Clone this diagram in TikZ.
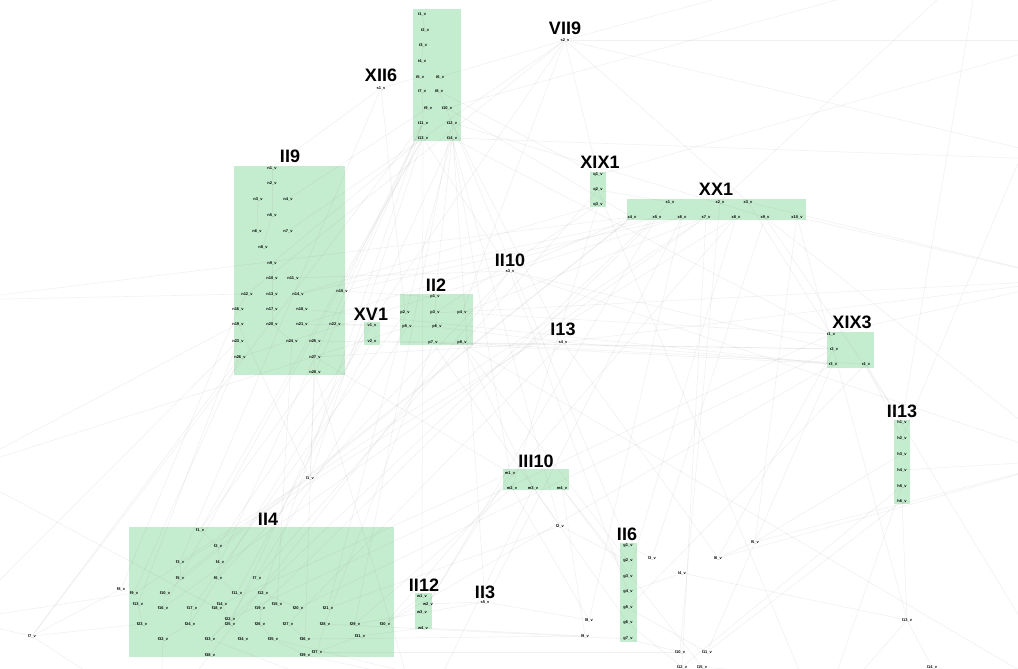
\documentclass[tikz,border=0pt]{standalone}
\usepackage{fontspec}
\setmainfont{Liberation Sans}
\setsansfont{Liberation Sans}
\definecolor{clusterfill}{RGB}{196,236,206}
\definecolor{edgegray}{RGB}{150,150,150}
\tikzset{
  clus/.style={fill=clusterfill, draw=none},
  ctitle/.style={font=\fontsize{18}{18}\selectfont\bfseries, inner sep=0pt, text=black},
  tn/.style={font=\fontsize{4}{4}\selectfont\bfseries, inner sep=0.3pt, text=black},
  edge/.style={draw=edgegray, line width=0.6pt, opacity=0.13}
}
\begin{document}
\begin{tikzpicture}[x=1pt,y=-1pt]
\useasboundingbox (0,0) rectangle (1018,669);
\fill[white] (0,0) rectangle (1018,669);

% cluster backgrounds
\fill[clus] (413,9) rectangle (461,141);   % XII6
\fill[clus] (234,166) rectangle (345,375); % II9
\fill[clus] (590,172) rectangle (606,207); % XIX1
\fill[clus] (627,199) rectangle (806,220); % XX1
\fill[clus] (400,294) rectangle (473,345); % II2
\fill[clus] (364,322) rectangle (380,345); % XV1
\fill[clus] (827,332) rectangle (874,368); % XIX3
\fill[clus] (894,420) rectangle (910,504); % II13
\fill[clus] (503,469) rectangle (569,490); % III10
\fill[clus] (129,527) rectangle (394,657); % II4
\fill[clus] (415,593) rectangle (432,629); % II12
\fill[clus] (620,543) rectangle (637,642); % II6

% cluster titles
\node[ctitle] (tXII6)  at (381,75)  {XII6};
\node[ctitle] (tVII9)  at (565,28)  {VII9};
\node[ctitle] (tII9)   at (290,156) {II9};
\node[ctitle] (tXIX1)  at (600,162) {XIX1};
\node[ctitle] (tXX1)   at (716,189) {XX1};
\node[ctitle] (tII10)  at (510,260) {II10};
\node[ctitle] (tII2)   at (436,285) {II2};
\node[ctitle] (tXV1)   at (371,314) {XV1};
\node[ctitle] (tI13)   at (563,329) {I13};
\node[ctitle] (tXIX3)  at (852,322) {XIX3};
\node[ctitle] (tII13)  at (902,411) {II13};
\node[ctitle] (tIII10) at (536,461) {III10};
\node[ctitle] (tII4)   at (268,519) {II4};
\node[ctitle] (tII6)   at (627,534) {II6};
\node[ctitle] (tII12)  at (424,585) {II12};
\node[ctitle] (tII3)   at (485,592) {II3};

% free ends of connectors that leave the frame
\coordinate (oA) at (1070,40);
\coordinate (oB) at (1070,280);
\coordinate (oC) at (1070,460);
\coordinate (oD) at (-40,470);
\coordinate (oE) at (-40,620);
\coordinate (oF) at (600,720);
\coordinate (oG) at (1070,700);
\coordinate (oH) at (160,720);
\coordinate (oI) at (860,-40);
\coordinate (oJ) at (1070,160);
\coordinate (oK) at (980,-40);
\coordinate (oL) at (-40,300);
\coordinate (oM) at (420,720);
\coordinate (oN) at (820,720);

% variable nodes
\foreach \n/\x/\y in {
  t1/422/14, t2/425/30, t3/423/45, t4/422/61, t5/420/77, t6/440/77, t7/422/91,
  t8/439/91, t9/428/108, t10/447/108, t11/423/123, t12/452/123, t13/423/138, t14/452/138,
  s1/381/88, s2/565/40, s3/510/271, s4/563/342, s5/485/602,
  n1/272/168, n2/272/183, n3/258/199, n4/288/199, n5/272/215, n6/257/231, n7/288/231,
  n8/263/247, n9/272/263, n10/272/278, n11/293/278, n12/247/294, n13/272/294, n14/298/294,
  n15/342/291, n16/238/309, n17/272/309, n18/302/309, n19/238/324, n20/272/324, n21/302/324,
  n22/335/324, n23/238/341, n24/292/341, n25/315/341, n26/240/357, n27/315/357, n28/315/372,
  v1/372/325, v2/372/341,
  p1/435/297, p2/405/313, p3/435/313, p4/462/313, p5/407/327, p6/437/327, p7/433/343, p8/462/343,
  q1/598/175, q2/598/190, q3/598/205,
  x1/670/202, x2/720/202, x3/748/202, x4/632/217, x5/657/217, x6/682/217, x7/706/217,
  x8/736/217, x9/765/217, x10/797/217,
  r1/831/334, r2/834/349, r3/833/364, r4/866/364,
  h1/902/422, h2/902/438, h3/902/454, h4/902/470, h5/902/486, h6/902/501,
  m1/510/473, m2/512/488, m3/533/488, m4/562/488,
  w1/422/596, w2/428/604, w3/422/612, w4/423/628,
  g1/628/546, g2/628/561, g3/628/577, g4/628/592, g5/628/608, g6/628/623, g7/628/639,
  f1/200/530, f2/218/546, f3/180/562, f4/220/562, f5/180/578, f6/218/578, f7/257/578,
  f8/121/589, f9/134/593, f10/165/593, f11/237/593, f12/263/593, f13/138/604, f14/222/604,
  f15/277/604, f16/163/608, f17/192/608, f18/217/608, f19/260/608, f20/298/608, f21/328/608,
  f22/230/619, f23/142/624, f24/190/624, f25/230/624, f26/260/624, f27/288/624, f28/325/624,
  f29/355/624, f30/385/624, f31/360/636, f32/163/639, f33/210/639, f34/243/639, f35/273/639,
  f36/305/639, f37/317/652, f38/210/655, f39/305/655,
  l1/310/478, l2/560/526, l3/652/558, l4/682/573, l5/755/542, l6/718/558, l7/32/636,
  l8/589/620, l9/585/636, l10/680/652, l11/707/652, l12/682/667, l13/907/620, l14/932/667, l15/702/667}
  \node[tn] (\n) at (\x,\y) {\n\_v};

% connectors
\foreach \a/\b in {
  t13/f1, t14/p1, t11/n15, t12/s4, t13/s3, t14/m1, t11/f4, t12/g1, t13/w1, t14/l2,
  t9/n4, t10/x4, t12/s5, t11/f12, t14/f21, t13/n9, t14/r1, t12/f29, t11/n28, t13/l1,
  t14/oJ, t10/oK, t12/x9, t13/f16, t14/f25, t11/l7,
  s2/t6, s2/n7, s2/q1, s2/oA, s2/p4, s2/f2, s2/x3, s2/oI, s2/oJ, s2/n12,
  s1/n1, s1/t5, s1/p2, s1/f3,
  x4/f10, x5/f19, x6/s5, x7/l1, x8/g3, x9/l3, x10/l5, x4/s3, x6/n15, x7/p4,
  x8/f30, x9/h1, x10/l13, x5/w2, x1/q2, x3/r1, x2/l10, x6/l8, x3/oB, x4/f5, x7/f16, x5/n21,
  x9/oC, x10/oB, x2/oK, x8/f9, x6/n26, x4/oL, x7/l12, x1/f33,
  q3/n14, q3/p3, q1/t8, q2/f7, q3/m2, q1/oA, q2/oN,
  n15/p1, n22/v1, n25/r2, n27/s4, n28/f1, n26/f9, n23/f13, n28/l1, n24/f15, n27/m1,
  n19/oD, n16/f8, n26/l7, n18/r3, n21/p6, n14/x5, n12/oL, n23/oE, n25/f36, n28/oM,
  p7/r3, p8/r4, p6/s4, p8/g2, p7/f28, p5/f22, p8/m3, p4/r1, p7/l2, p3/oB, v2/r2, v2/f11,
  p2/f17, p5/oD, p8/oG, v1/f24,
  s3/n11, s3/r2, s3/g4, s3/f6, s3/oC, s3/f38,
  s4/r3, s4/f27, s4/l6, s4/oB,
  r3/f30, r4/g5, r2/l6, r3/l11, r1/oB, r4/h2, r2/f20, r4/oG, r1/f22,
  h3/l5, h6/l13, h4/oC, h5/l12, h6/l11, h2/oA, h1/oK, h5/oN,
  m2/f29, m3/g6, m4/l9, m1/w3, m4/g3, m2/l8, m1/f14, m3/oM, m4/l15,
  f30/w1, f31/w4, f29/s5, f21/l2, f28/g7, f36/l9, f39/oF, f37/l10, f32/oH, f8/l7, f9/oE,
  f38/oH, f33/oM, f35/oF, f18/oD,
  l1/f3, l1/n19, l7/oE, l7/f23, l7/oH,
  l2/g2, l3/g1, l4/g4, l5/l6, w2/s5, w4/l9, s5/l8,
  g7/l10, g5/l11, g6/l12, l13/l14, l14/oG, l12/oF, l15/oG, l4/l13, l5/oC, l13/oN, l6/oC,
  f1/f2, f2/f4, f3/f5, f4/f6, f6/f11, f10/f16, f14/f25, f19/f26, f27/f36, f25/f34,
  f12/f20, f22/f33, f26/f35, f28/f37, f13/f23, f17/f24, f24/f32, f35/f39, f31/f37,
  n1/n2, n2/n5, n3/n6, n5/n8, n9/n10, n13/n17, n17/n20, n10/n13, n12/n16, n20/n24,
  p1/p3, p3/p6, t1/t2, t3/t4, t7/t11, t8/t12}
  \draw[edge] (\a) -- (\b);
\end{tikzpicture}
\end{document}
